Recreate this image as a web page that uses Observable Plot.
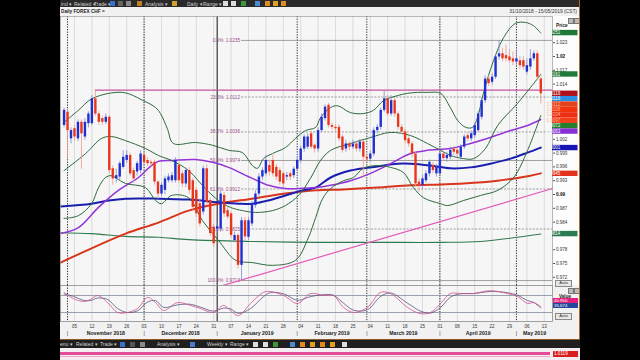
<!DOCTYPE html>
<html>
<head>
<meta charset="utf-8">
<script src="https://cdn.jsdelivr.net/npm/d3@7"></script>
<script src="https://cdn.jsdelivr.net/npm/@observablehq/plot@0.6"></script>
<style>
  html, body { margin:0; padding:0; background:#000; }
  body { width:640px; height:360px; overflow:hidden; position:relative; font-family:"Liberation Sans", Arial, sans-serif; }
  .a { position:absolute; }
  .tb { color:#d0d0d0; font-size:5px; line-height:6px; white-space:nowrap; }
  .ic { position:absolute; width:5px; height:5px; }
  .btn { position:absolute; background:#e6e6e6; border:0.5px solid #8a8a8a; color:#333; font-size:4.2px; line-height:4.6px; text-align:center; }
</style>
</head>
<body>
<!-- top toolbar -->
<div class="a" style="left:60px;top:0;width:520px;height:7px;background:#2a2a2a;overflow:hidden;">
  <span class="a tb" style="left:1px;top:0.5px">ind ▾</span>
  <span class="a tb" style="left:14px;top:0.5px">Related ▾</span>
  <span class="a tb" style="left:34px;top:0.5px">Trade ▾</span>
  <div class="ic" style="left:50px;top:1px;background:#3a6fd0"></div>
  <div class="ic" style="left:58px;top:1px;background:#666"></div>
  <div class="ic" style="left:66px;top:1px;background:#888"></div>
  <div class="ic" style="left:77px;top:1px;background:#c08020"></div>
  <span class="a tb" style="left:85px;top:0.5px">Analysis ▾</span>
  <div class="ic" style="left:112px;top:1px;background:#d0a030"></div>
  <span class="a tb" style="left:127px;top:0.5px">Daily ▾</span>
  <span class="a tb" style="left:143px;top:0.5px">Range ▾</span>
  <div class="ic" style="left:163px;top:1px;background:#ddd"></div>
  <div class="ic" style="left:171px;top:1px;background:#ddd"></div>
  <div class="ic" style="left:181px;top:1px;background:#3a9a3a"></div>
  <div class="ic" style="left:195px;top:1px;background:#4a8ad0"></div>
  <div class="ic" style="left:205px;top:1px;background:#e08a20"></div>
  <div class="ic" style="left:213px;top:1px;background:#e0a020"></div>
  <div class="ic" style="left:221px;top:1px;background:#e08a20"></div>
</div>
<!-- window -->
<div class="a" style="left:60px;top:7px;width:520px;height:332px;background:#f1f1f1;"></div>
<div class="a" style="left:61px;top:8.5px;font-size:4.7px;font-weight:bold;color:#222;">Daily FOREX CHF =</div>
<div class="a" style="left:480px;top:9px;width:97px;text-align:right;font-size:4.9px;color:#333;">31/10/2018 - 15/05/2019 (CST)</div>
<div id="main" class="a" style="left:60px;top:16px;"></div>
<div id="osc" class="a" style="left:60px;top:285px;"></div>
<div class="a" style="left:556px;top:23px;font-size:4.8px;font-weight:bold;color:#222;">Price</div>
<div class="a" style="left:568px;top:18px;width:4px;height:4px;background:#bbb;border:0.5px solid #777"></div>
<div class="a" style="left:573.5px;top:18px;width:4px;height:4px;background:#bbb;border:0.5px solid #777"></div>
<div class="btn" style="left:555px;top:280px;width:15px;height:4.6px;">Auto</div>
<div class="a" style="left:568px;top:288px;width:4px;height:4px;background:#bbb;border:0.5px solid #777"></div>
<div class="a" style="left:573.5px;top:288px;width:4px;height:4px;background:#bbb;border:0.5px solid #777"></div>
<div class="a" style="left:559px;top:293.5px;font-size:4.6px;font-weight:bold;color:#222;">Value</div>
<div id="kbox" class="a" style="left:553px;top:298px;width:24px;height:5px;background:#e5207c;color:#fff;font-size:4.4px;line-height:5px;padding-left:1px;"></div>
<div id="dbox" class="a" style="left:553px;top:303.2px;width:24px;height:5px;background:#23479a;color:#fff;font-size:4.4px;line-height:5px;padding-left:1px;"></div>
<div class="btn" style="left:555px;top:313px;width:15px;height:4.6px;">Auto</div>
<!-- right border -->
<div class="a" style="left:579px;top:0;width:1px;height:348px;background:#a86a2c"></div>
<div class="a" style="left:60px;top:338.5px;width:520px;height:1px;background:#8a5a2a"></div>
<!-- bottom toolbar -->
<div class="a" style="left:60px;top:339.5px;width:520px;height:8.5px;background:#1f1f1f;overflow:hidden;">
  <span class="a tb" style="left:0px;top:1.2px">enu ▾</span>
  <span class="a tb" style="left:16px;top:1.2px">Related ▾</span>
  <span class="a tb" style="left:40px;top:1.2px">Trade ▾</span>
  <div class="ic" style="left:60px;top:2px;background:#3a6fd0"></div>
  <div class="ic" style="left:70px;top:2px;background:#555"></div>
  <div class="ic" style="left:80px;top:2px;background:#888"></div>
  <span class="a tb" style="left:97px;top:1.2px">Analysis ▾</span>
  <div class="ic" style="left:130px;top:2px;background:#4a7ad0"></div>
  <span class="a tb" style="left:147px;top:1.2px">Weekly ▾</span>
  <span class="a tb" style="left:170px;top:1.2px">Range ▾</span>
  <div class="ic" style="left:193px;top:2px;background:#ddd"></div>
  <div class="ic" style="left:203px;top:2px;background:#ddd"></div>
  <div class="ic" style="left:213px;top:2px;background:#3a9a3a"></div>
  <div class="ic" style="left:230px;top:2px;background:#4a8ad0"></div>
  <div class="ic" style="left:240px;top:2px;background:#e08a20"></div>
  <div class="ic" style="left:250px;top:2px;background:#e0a020"></div>
  <div class="ic" style="left:260px;top:2px;background:#e08a20"></div>
  <div class="ic" style="left:270px;top:2px;background:#e0a020"></div>
  <div class="ic" style="left:282px;top:2px;background:#ddd"></div>
</div>
<!-- bottom strip (next window) -->
<div class="a" style="left:60px;top:348px;width:520px;height:12px;background:#f3edf1;"></div>
<div class="a" style="left:60px;top:352px;width:490px;height:3px;background:#e24d9a;"></div>
<div class="a" style="left:60px;top:356px;width:490px;height:1px;background:#f0a8cc;"></div>
<div id="lastbox" class="a" style="left:553px;top:351px;width:24px;height:6px;background:#d81e1e;color:#fff;font-size:4.6px;line-height:6px;padding-left:1px;"></div>
<script>
// ---------------- DATA ----------------
const weekLabels = ["05","12","19","26","03","10","17","24","31","07","14","21","28","04","11","18","25","04","11","18","25","01","08","15","22","29","06","13"];
const monthNames = ["November 2018","December 2018","January 2019","February 2019","March 2019","April 2019","May 2019"];
const monthStart = [1, 23, 44, 67, 87, 108, 130];   // session index of first trading day
const yearStart = 44;
const firstMonday = 3;

// visible price ticks (others are hidden behind the value flags)
const priceTicks = [1.023, 1.017, 1.014, 1.002, 0.999, 0.996, 0.993, 0.987, 0.984, 0.978, 0.975, 0.972];
const boldTicks = [1.02, 0.99];

const candleOpen = [1.0050,1.0079,1.0021,1.0043,1.0021,1.0057,1.0025,1.0054,1.0054,1.0108,
 1.0075,1.0065,1.0057,1.0068,0.9956,0.9934,0.9938,0.9959,0.9974,0.9985,
 0.9952,0.9949,0.9952,0.9985,0.9974,0.9970,0.9970,0.9927,0.9901,0.9909,
 0.9930,0.9930,0.9930,0.9963,0.9945,0.9923,0.9952,0.9930,0.9909,0.9880,
 0.9862,0.9956,0.9887,0.9829,0.9825,0.9825,0.9898,0.9865,0.9858,0.9800,
 0.9811,0.9746,0.9843,0.9807,0.9836,0.9876,0.9901,0.9938,0.9945,0.9963,
 0.9974,0.9959,0.9952,0.9945,0.9938,0.9945,0.9941,0.9955,0.9974,0.9999,
 1.0003,1.0032,1.0007,0.9999,1.0039,1.0065,1.0094,1.0050,1.0046,1.0046,
 1.0025,0.9999,1.0010,1.0003,1.0010,0.9999,1.0014,0.9981,0.9977,0.9988,
 1.0039,1.0046,1.0083,1.0108,1.0075,1.0104,1.0075,1.0046,1.0036,1.0021,
 1.0010,0.9988,0.9927,0.9920,0.9930,0.9945,0.9963,0.9945,0.9945,0.9988,
 0.9978,0.9981,0.9999,0.9996,0.9981,1.0003,1.0028,1.0021,1.0028,1.0039,
 1.0068,1.0104,1.0151,1.0144,1.0155,1.0199,1.0206,1.0202,1.0199,1.0195,
 1.0188,1.0191,1.0191,1.0166,1.0177,1.0195,1.0206,1.0151];
const candleHigh = [1.0088,1.0083,1.0045,1.0050,1.0062,1.0062,1.0065,1.0080,1.0115,1.0127,
 1.0080,1.0070,1.0075,1.0072,0.9962,0.9955,0.9972,0.9995,0.9995,0.9990,
 0.9958,0.9972,0.9995,0.9992,0.9980,0.9975,0.9975,0.9930,0.9925,0.9940,
 0.9945,0.9948,0.9980,0.9970,0.9952,0.9958,0.9958,0.9935,0.9915,0.9890,
 0.9962,0.9965,0.9892,0.9835,0.9840,0.9908,0.9905,0.9872,0.9862,0.9818,
 0.9815,0.9850,0.9850,0.9850,0.9885,0.9908,0.9945,0.9958,0.9985,0.9975,
 0.9985,0.9965,0.9958,0.9950,0.9948,0.9950,0.9960,0.9980,1.0005,1.0030,
 1.0032,1.0038,1.0010,1.0045,1.0075,1.0095,1.0098,1.0055,1.0052,1.0052,
 1.0030,1.0018,1.0015,1.0018,1.0015,1.0020,1.0018,0.9988,0.9995,1.0045,
 1.0052,1.0088,1.0125,1.0115,1.0115,1.0110,1.0080,1.0052,1.0042,1.0025,
 1.0015,0.9992,0.9935,0.9942,0.9952,0.9975,0.9970,0.9965,0.9995,0.9995,
 0.9992,1.0003,1.0005,1.0000,1.0008,1.0030,1.0035,1.0038,1.0055,1.0080,
 1.0110,1.0158,1.0158,1.0162,1.0205,1.0235,1.0218,1.0225,1.0215,1.0210,
 1.0212,1.0200,1.0200,1.0195,1.0215,1.0212,1.0212,1.0155];
const candleLow = [1.0045,0.9975,1.0010,1.0015,1.0015,0.9955,1.0018,1.0045,1.0050,1.0070,
 1.0050,1.0050,1.0052,0.9945,0.9920,0.9925,0.9930,0.9955,0.9968,0.9940,
 0.9925,0.9940,0.9945,0.9962,0.9960,0.9960,0.9920,0.9890,0.9895,0.9900,
 0.9925,0.9925,0.9925,0.9925,0.9915,0.9915,0.9900,0.9865,0.9850,0.9830,
 0.9855,0.9875,0.9808,0.9785,0.9818,0.9818,0.9850,0.9845,0.9805,0.9795,
 0.9738,0.9713,0.9800,0.9800,0.9830,0.9870,0.9895,0.9930,0.9940,0.9940,
 0.9938,0.9930,0.9920,0.9915,0.9930,0.9930,0.9935,0.9950,0.9968,0.9992,
 0.9998,0.9998,0.9990,0.9992,1.0035,1.0060,1.0045,1.0040,1.0035,1.0015,
 0.9990,0.9992,0.9995,0.9998,0.9992,0.9992,0.9938,0.9970,0.9970,0.9982,
 1.0032,1.0040,1.0078,1.0070,1.0070,1.0068,1.0040,1.0030,1.0010,1.0003,
 0.9980,0.9915,0.9905,0.9912,0.9925,0.9938,0.9945,0.9938,0.9940,0.9972,
 0.9970,0.9975,0.9985,0.9980,0.9975,0.9998,1.0015,1.0015,1.0022,1.0035,
 1.0062,1.0098,1.0135,1.0138,1.0150,1.0192,1.0188,1.0188,1.0185,1.0180,
 1.0180,1.0172,1.0170,1.0160,1.0170,1.0190,1.0148,1.0097];
const candleClose = [1.0083,1.0039,1.0039,1.0025,1.0057,1.0032,1.0057,1.0075,1.0108,1.0075,
 1.0057,1.0057,1.0068,0.9952,0.9934,0.9941,0.9967,0.9981,0.9985,0.9945,
 0.9934,0.9967,0.9988,0.9970,0.9967,0.9967,0.9927,0.9901,0.9920,0.9934,
 0.9938,0.9941,0.9974,0.9930,0.9923,0.9952,0.9909,0.9872,0.9858,0.9836,
 0.9956,0.9883,0.9815,0.9793,0.9830,0.9901,0.9858,0.9851,0.9811,0.9811,
 0.9746,0.9843,0.9808,0.9843,0.9880,0.9901,0.9938,0.9952,0.9974,0.9949,
 0.9945,0.9938,0.9927,0.9923,0.9941,0.9938,0.9955,0.9974,0.9999,1.0025,
 1.0025,1.0003,0.9999,1.0039,1.0068,1.0090,1.0050,1.0046,1.0043,1.0021,
 0.9996,1.0010,1.0003,1.0010,0.9999,1.0014,0.9981,0.9977,0.9988,1.0039,
 1.0046,1.0083,1.0108,1.0075,1.0104,1.0075,1.0046,1.0036,1.0017,1.0010,
 0.9988,0.9923,0.9920,0.9934,0.9945,0.9970,0.9952,0.9959,0.9988,0.9978,
 0.9985,0.9996,0.9992,0.9988,1.0003,1.0025,1.0021,1.0032,1.0050,1.0075,
 1.0104,1.0151,1.0141,1.0155,1.0199,1.0206,1.0195,1.0195,1.0191,1.0188,
 1.0195,1.0180,1.0177,1.0180,1.0195,1.0206,1.0155,1.0119];

// indicator lines: [session index, price]
const bbUpper = [[0,1.0057],[4.1,1.0083],[8.2,1.0109],[16.8,1.0122],[22.8,1.0104],[26.3,1.0089],[27.7,1.0076],[29.7,1.0043],[31.4,1.0011],[37.8,1.0013],[42.7,1.0007],[47.3,0.9996],[51.3,0.9991],[54.1,0.9963],[55.6,0.9957],[57.3,0.9978],[59.9,0.9989],[63.6,1.0002],[66.5,1.0022],[69.4,1.0039],[72.3,1.0046],[73.7,1.0067],[76.6,1.0089],[78.6,1.0093],[82.3,1.0078],[86,1.0076],[88.9,1.0083],[91.8,1.0104],[95.8,1.0115],[98.7,1.0120],[101.6,1.0122],[104.4,1.0122],[108.2,1.0120],[111,1.0089],[113.1,1.0061],[115.4,1.0046],[117.4,1.0046],[118.8,1.0067],[120.5,1.0120],[123.4,1.0191],[126.3,1.0241],[129.7,1.0272],[132.6,1.0274],[134.9,1.0267],[137,1.0251]];
const bbMiddle = [[0,0.9952],[6.2,0.9989],[10.8,1.0022],[13.6,1.0026],[17.7,1.0017],[23.4,1.0000],[27.1,0.9985],[30.9,0.9974],[35.8,0.9952],[40.6,0.9913],[44.4,0.9887],[47.8,0.9872],[51.3,0.9865],[55,0.9861],[59.9,0.9865],[63.6,0.9876],[67.4,0.9898],[70.8,0.9935],[73.7,0.9974],[76.6,0.9996],[82.3,1.0011],[88.1,1.0024],[93.8,1.0035],[99.6,1.0028],[104.4,1.0011],[108.2,0.9996],[111,0.9985],[114.8,0.9978],[117.7,0.9978],[121.1,1.0000],[124.6,1.0050],[130.3,1.0098],[137,1.0161]];
const bbLower = [[0,0.9848],[4.1,0.9854],[7.9,0.9880],[9.9,0.9915],[11.9,0.9937],[13.6,0.9941],[15.1,0.9935],[17.7,0.9924],[23.4,0.9915],[26.3,0.9887],[28,0.9880],[30.9,0.9898],[35.8,0.9893],[39.8,0.9843],[44.4,0.9800],[49.3,0.9757],[54.1,0.9752],[59.9,0.9746],[66.5,0.9757],[70.2,0.9806],[72.3,0.9850],[74.3,0.9891],[76.6,0.9913],[80.3,0.9930],[83.2,0.9937],[86,0.9957],[90.1,0.9963],[93.8,0.9959],[97.5,0.9948],[100.4,0.9915],[103.3,0.9893],[108.2,0.9880],[110.2,0.9876],[114.8,0.9887],[119.7,0.9898],[124.6,0.9909],[129.2,0.9937],[133.2,0.9996],[137,1.0072]];
const maPurple = [[-1.02,0.9815],[4.1,0.9828],[9.9,0.9872],[15.6,0.9909],[21.4,0.9937],[25.1,0.9963],[27.1,0.9972],[31.2,0.9974],[37.8,0.9976],[42.7,0.9970],[47.3,0.9959],[54.1,0.9935],[58.7,0.9920],[63.6,0.9913],[67.4,0.9913],[72.3,0.9915],[76.6,0.9920],[82.3,0.9930],[88.1,0.9946],[93.8,0.9967],[99.6,0.9989],[104.4,0.9996],[111,1.0000],[116.8,1.0011],[122.5,1.0024],[128.3,1.0039],[133.2,1.0050],[137,1.0063]];
const maBlue = [[-1.02,0.9874],[7.9,0.9880],[12.8,0.9887],[17.7,0.9891],[27.1,0.9891],[35.8,0.9889],[44.4,0.9883],[50.1,0.9880],[54.1,0.9880],[58.7,0.9887],[63.6,0.9898],[68.5,0.9909],[72.3,0.9915],[76.6,0.9937],[82.3,0.9952],[90.1,0.9961],[95.8,0.9967],[99.6,0.9967],[105.3,0.9963],[111,0.9957],[116.8,0.9959],[122.5,0.9967],[128.3,0.9978],[133.2,0.9991],[137,1.0002]];
const maRed = [[-1.02,0.9752],[7.9,0.9783],[17.7,0.9815],[27.1,0.9839],[35.8,0.9865],[44.4,0.9880],[54.1,0.9891],[63.6,0.9902],[72.3,0.9909],[80.3,0.9911],[90.1,0.9915],[99.6,0.9920],[108.2,0.9922],[114.8,0.9924],[124.6,0.9930],[134,0.9941],[137,0.9946]];
const maGreen = [[-1.02,0.9817],[7.9,0.9815],[17.7,0.9809],[27.1,0.9807],[35.8,0.9802],[53.6,0.9798],[72.3,0.9796],[90.9,0.9796],[108.2,0.9796],[119.7,0.9798],[137,0.9814]];
const trendLine = [[45.5,0.9702],[140.36,0.9913]];
const resistanceLevel = 1.0127, resistanceFrom = 9;

const fibPct = [0, 23.6, 38.2, 50, 61.8, 78.6, 100];
const fibVal = [1.0235, 1.0112, 1.0036, 0.9974, 0.9912, 0.9825, 0.9713];
const fibSolidPct = [0, 50, 100];
const fibFrom = 51;

// price-axis value flags
const flagVals = [1.0251, 1.0161, 1.0001, 0.9945, 0.9814];
const flagColors = ["#1f7a3a", "#1f7a3a", "#1616b4", "#e2321c", "#2a7a52"];
const stackVals = [1.0119, 1.0116, 1.0112, 1.0108, 1.0104, 1.0097, 1.0072, 1.0063];
const stackColors = ["#b0101e", "#2a90e6", "#e4421c", "#f2330f", "#ec2e14", "#f0401c", "#22802e", "#8430d6"];
const stackText = ["#fff", "#fff", "#ffb49a", "#ffb49a", "#ffb49a", "#ffb49a", "#fff", "#fff"];

// stochastic oscillator: [session index, value]
const stochK = [[0,91],[2.7,69],[5.6,59],[7.6,66],[9.6,80],[12.5,55],[15.4,20],[18.2,20],[21.1,34],[24,73],[26.3,55],[28.6,27],[32.6,55],[36.3,45],[39.2,34],[42.9,20],[45.8,45],[47.8,27],[50.1,9],[53.6,52],[57.3,91],[59.3,94],[63.1,80],[67.1,52],[70.8,87],[74.6,80],[77.4,80],[80.3,38],[83.2,20],[87.2,38],[90.9,91],[93.8,87],[98.7,38],[102.4,16],[105.3,20],[108.2,52],[111,87],[113.9,87],[117.7,87],[122.5,97],[127.4,87],[130.3,76],[133.2,52],[134.9,55],[137,40.95]];
const stochD = [[0,85],[2.7,77],[5.6,63],[7.6,62],[9.6,71],[12.5,66],[15.4,34],[18.2,20],[21.1,26],[24,57],[26.3,62],[28.6,38],[32.6,47],[36.3,49],[39.2,39],[42.9,25],[45.8,35],[47.8,33],[50.1,17],[53.6,34],[57.3,76],[59.3,90],[63.1,86],[67.1,63],[70.8,76],[74.6,83],[77.4,81],[80.3,53],[83.2,28],[87.2,30],[90.9,76],[93.8,89],[98.7,53],[102.4,25],[105.3,18],[108.2,38],[111,74],[113.9,86],[117.7,87],[122.5,94],[127.4,90],[130.3,81],[133.2,62],[134.9,56],[137,35.674]];
const stochLevels = [80, 20];

// ---------------- BUILD ----------------
const X0 = -1.02, X1 = 140.36;
const FONT = "Liberation Sans, Arial, sans-serif";
const weekIdx = weekLabels.map((_, k) => firstMonday + 5 * k);
const weekLabelOf = new Map(weekIdx.map((v, k) => [v, weekLabels[k]]));
const monthDashed = monthStart.filter(m => m !== yearStart);
const monthEnds = monthStart.slice(1).concat([X1]);
const monthCenters = monthStart.map((m, k) => (m + monthEnds[k]) / 2);
const monthOf = new Map(monthCenters.map((c, k) => [c, monthNames[k]]));

const candles = candleClose.map((c, i) => ({i, o: candleOpen[i], h: candleHigh[i], l: candleLow[i], c}));
const up = candles.filter(d => d.c >= d.o);
const down = candles.filter(d => d.c < d.o);
const fib = fibPct.map((p, k) => ({p, v: fibVal[k]}));
const fibSolid = fib.filter(d => fibSolidPct.includes(d.p));
const fibDashed = fib.filter(d => !fibSolidPct.includes(d.p));
const fmtTick = d => String(+d.toFixed(3));
const px = d => d[0], py = d => d[1];

const main = Plot.plot({
  width: 520, height: 269,
  marginLeft: 0, marginRight: 28, marginTop: 0, marginBottom: 0,
  x: {domain: [X0, X1], axis: null},
  y: {domain: [0.97022, 1.0287], axis: null},
  style: {background: "#fdfdfd", fontFamily: FONT, fontSize: "4.5px", color: "#222"},
  marks: [
    Plot.frame({fill: "#f6f6f6"}),
    Plot.ruleX(weekIdx, {stroke: "#d0d0d0", strokeWidth: 0.7}),
    Plot.ruleX(monthDashed, {stroke: "#1a1a1a", strokeWidth: 0.9, strokeDasharray: "1.3,1.3"}),
    Plot.ruleX([yearStart], {stroke: "#111", strokeWidth: 1}),
    Plot.ruleY(fibSolid, {y: "v", x1: fibFrom, x2: X1, stroke: "#8a8a8a", strokeWidth: 0.8}),
    Plot.ruleY(fibDashed, {y: "v", x1: fibFrom, x2: X1, stroke: "#8a8a8a", strokeWidth: 0.8, strokeDasharray: "2.2,1.4"}),
    Plot.text(fib, {x: fibFrom, y: "v", text: d => `${d.p.toFixed(1)}%\u2002${d.v.toFixed(4)}`, textAnchor: "end", dx: -1.5, fill: "#9a4a82", fontSize: 4.7}),
    Plot.ruleY([resistanceLevel], {x1: resistanceFrom, x2: X1, stroke: "#c4559c", strokeWidth: 1.2}),
    Plot.line(maGreen, {x: px, y: py, stroke: "#2f7a50", strokeWidth: 1.1, curve: "catmull-rom"}),
    Plot.line(maRed, {x: px, y: py, stroke: "#d8351c", strokeWidth: 2, curve: "catmull-rom"}),
    Plot.line(maBlue, {x: px, y: py, stroke: "#1a1fb0", strokeWidth: 2, curve: "catmull-rom"}),
    Plot.line(maPurple, {x: px, y: py, stroke: "#9434d8", strokeWidth: 1.5, curve: "catmull-rom"}),
    Plot.line(trendLine, {x: px, y: py, stroke: "#e25ab8", strokeWidth: 1.2}),
    Plot.line(bbUpper, {x: px, y: py, stroke: "#2c6a3a", strokeWidth: 1, curve: "catmull-rom"}),
    Plot.line(bbMiddle, {x: px, y: py, stroke: "#2c6a3a", strokeWidth: 1, curve: "catmull-rom"}),
    Plot.line(bbLower, {x: px, y: py, stroke: "#2c6a3a", strokeWidth: 1, curve: "catmull-rom"}),
    Plot.ruleX(up, {x: "i", y1: "l", y2: "h", stroke: "#8088d4", strokeWidth: 0.8}),
    Plot.ruleX(down, {x: "i", y1: "l", y2: "h", stroke: "#ec9a88", strokeWidth: 0.8}),
    Plot.ruleX(up, {x: "i", y1: "o", y2: "c", stroke: "#1f2fd0", strokeWidth: 2.4}),
    Plot.ruleX(down, {x: "i", y1: "o", y2: "c", stroke: "#e8361c", strokeWidth: 2.4}),
    Plot.axisY({anchor: "right", ticks: priceTicks, tickFormat: fmtTick, tickSize: 2, tickPadding: 1.5, fontSize: 4.5, label: null, fill: "#333", stroke: "#555"}),
    Plot.axisY({anchor: "right", ticks: boldTicks, tickFormat: fmtTick, tickSize: 2, tickPadding: 1.5, fontSize: 4.7, fontWeight: "bold", label: null, fill: "#111", stroke: "#555"}),
    Plot.frame({stroke: "#9a9a9a", strokeWidth: 0.7})
  ]
});
document.getElementById("main").appendChild(main);

// value flags on the price axis, positioned through the chart's own scales
const ys = main.scale("y"), xs = main.scale("x");
const xr = xs.apply(X1);
const g = d3.select(main).append("g").attr("font-family", FONT).attr("font-size", 4.5);
function flag(v, yc, fill, tfill) {
  g.append("rect").attr("x", xr).attr("y", yc - 2.7).attr("width", 25.5).attr("height", 5.4).attr("fill", fill);
  g.append("text").attr("x", xr + 1.5).attr("y", yc + 1.6).attr("fill", tfill).text(v.toFixed(4));
}
flagVals.forEach((v, k) => flag(v, ys.apply(v), flagColors[k], "#fff"));
const y0 = ys.apply(stackVals[0]);
stackVals.forEach((v, k) => flag(v, y0 + k * 5.4, stackColors[k], stackText[k]));

const osc = Plot.plot({
  width: 520, height: 53,
  marginLeft: 0, marginRight: 28, marginTop: 0, marginBottom: 17,
  x: {domain: [X0, X1], axis: null},
  y: {domain: [-11.76, 115.3], axis: null},
  style: {background: "#f1f1f1", fontFamily: FONT, fontSize: "4.5px", color: "#222"},
  marks: [
    Plot.frame({fill: "#f6f6f6"}),
    Plot.ruleX(weekIdx, {stroke: "#d0d0d0", strokeWidth: 0.7}),
    Plot.ruleX(monthDashed, {stroke: "#1a1a1a", strokeWidth: 0.9, strokeDasharray: "1.3,1.3"}),
    Plot.ruleX([yearStart], {stroke: "#111", strokeWidth: 1}),
    Plot.ruleY(stochLevels, {stroke: "#8f98a4", strokeWidth: 0.9}),
    Plot.line(stochD, {x: px, y: py, stroke: "#55557e", strokeWidth: 0.8, curve: "catmull-rom"}),
    Plot.line(stochK, {x: px, y: py, stroke: "#d2508e", strokeWidth: 0.8, curve: "catmull-rom"}),
    Plot.frame({stroke: "#8a8a8a", strokeWidth: 0.8}),
    Plot.axisX({anchor: "bottom", ticks: weekIdx, tickFormat: d => weekLabelOf.get(d), tickSize: 0, tickPadding: 3, fontSize: 4.5, label: null, fill: "#333"}),
    Plot.axisX({anchor: "bottom", ticks: monthCenters, tickFormat: d => monthOf.get(d), tickSize: 0, tickPadding: 9.5, fontSize: 5.2, fontWeight: "bold", label: null, fill: "#222"}),
    Plot.axisX({anchor: "bottom", ticks: monthStart, tickFormat: () => "|", tickSize: 0, tickPadding: 9.5, fontSize: 5, label: null, fill: "#333"})
  ]
});
document.getElementById("osc").appendChild(osc);

document.getElementById("kbox").textContent = stochK[stochK.length - 1][1].toFixed(3);
document.getElementById("dbox").textContent = stochD[stochD.length - 1][1].toFixed(3);
document.getElementById("lastbox").textContent = candleClose[candleClose.length - 1].toFixed(4);
</script>
</body>
</html>
